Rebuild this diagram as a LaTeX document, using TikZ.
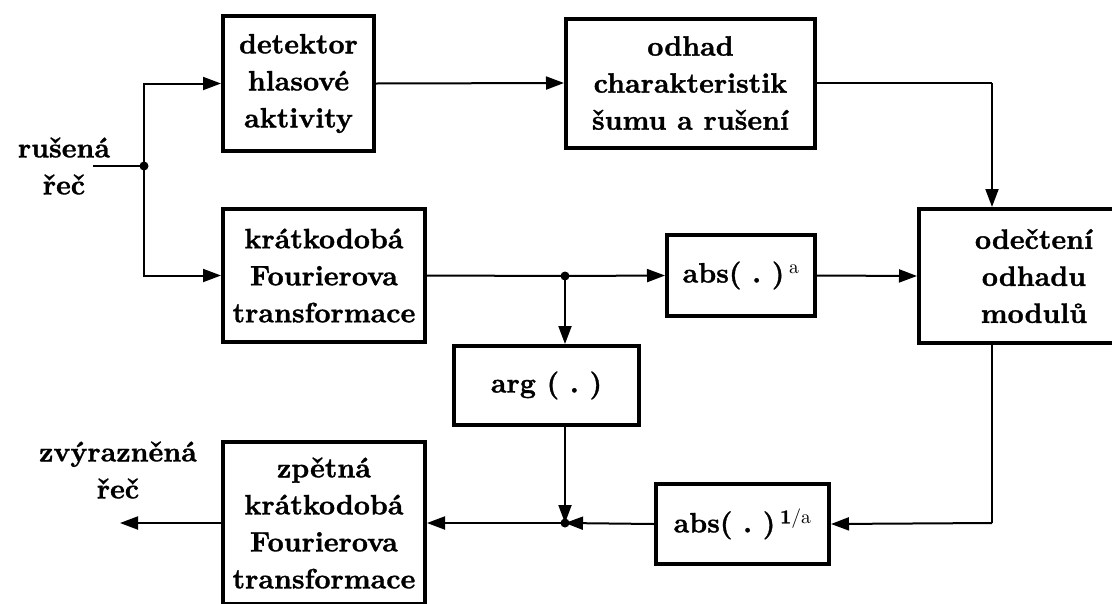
\documentclass[tikz,border=0pt]{standalone}
\usepackage{fontspec}
\setmainfont{lmroman10-regular.otf}[BoldFont=lmroman10-bold.otf, BoldFeatures={FakeBold=1.2}]
\usetikzlibrary{arrows.meta,calc}
\tikzset{
  blk/.style={draw, line width=4pt, inner sep=0pt, align=center, font=\fontsize{28}{37}\selectfont\bfseries},
  lbl/.style={inner sep=0pt, align=center, font=\fontsize{28}{37}\selectfont\bfseries},
  conn/.style={line width=2pt},
  arr/.style={conn, -{Triangle[length=18pt,width=13pt]}},
  dotc/.style={circle, fill, inner sep=0pt, minimum size=9pt}
}
\begin{document}
\begin{tikzpicture}[x=1pt,y=-1pt]
\useasboundingbox (0,0) rectangle (1112,603);
\clip (0,0) rectangle (1112,603);
\node[blk, minimum width=151pt, minimum height=135pt] (det) at (298.5,83.5) {detektor\\hlasové\\aktivity};
\node[blk, minimum width=249pt, minimum height=129pt] (odh) at (690.5,83) {odhad\\charakteristik\\šumu a rušení};
\node[blk, minimum width=202pt, minimum height=133pt] (stft) at (324,275.5) {krátkodobá\\Fourierova\\transformace};
\node[blk, minimum width=148pt, minimum height=81pt] (absa) at (741,275.5) {abs(~.~)\,\textsuperscript{\mdseries a}};
\node[blk, minimum width=230pt, minimum height=134pt] (ode) at (1034,276) {odečtení\\odhadu\\modulů};
\node[blk, minimum width=185pt, minimum height=79pt] (arg) at (546.5,385.5) {arg (~.~)};
\node[blk, minimum width=173pt, minimum height=80pt] (absb) at (742.5,524) {abs(~.~)\,\textsuperscript{1\mdseries/a}};
\node[blk, minimum width=202pt, minimum height=162pt] (istft) at (324,523) {zpětná\\krátkodobá\\Fourierova\\transformace};
\node[lbl] (inl) at (64,166) {rušená\\řeč};
\node[lbl] (outl) at (118,470) {zvýrazněná\\řeč};
\coordinate (in) at (93,166);
\node[dotc] (j1) at (144,166) {};
\node[dotc] (j2) at (565,276) {};
\node[dotc] (j3) at (565,523) {};
\coordinate (c1) at (992,83);
\coordinate (c2) at (992,523);
\coordinate (out) at (120,523);
\draw[conn] (in) -- (j1.center);
\draw[arr] (j1.center) |- (det.west);
\draw[arr] (j1.center) |- (stft.west);
\draw[arr] (det.east) -- (odh.west);
\draw[conn] (odh.east) -- (c1);
\draw[arr] (c1) -- (c1 |- ode.north);
\draw[conn] (stft.east) -- (j2.center);
\draw[arr] (j2.center) -- (absa.west);
\draw[arr] (absa.east) -- (ode.west);
\draw[arr] (j2.center) -- (j2 |- arg.north);
\draw[arr] (j3 |- arg.south) -- (j3.center);
\draw[conn] (c2 |- ode.south) -- (c2);
\draw[arr] (c2) -- (absb.east);
\draw[arr] (absb.west) -- (j3.center);
\draw[arr] (j3.center) -- (istft.east);
\draw[arr] (istft.west) -- (out);
\end{tikzpicture}
\end{document}
